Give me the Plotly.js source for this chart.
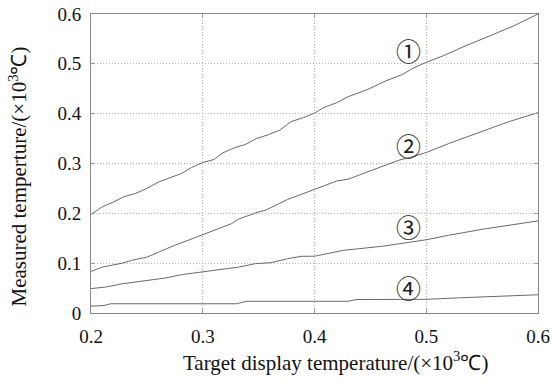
<!DOCTYPE html>
<html>
<head>
<meta charset="utf-8">
<script src="https://cdn.plot.ly/plotly-3.0.1.min.js"></script>
<style>html,body{margin:0;padding:0;background:#fff;}#chart{width:554px;height:382px;}</style>
</head>
<body>
<div id="chart"></div>
<script>
// Curve 1
const x1 = [0.2,0.21,0.2205,0.229,0.24,0.25,0.2605,0.271,0.281,0.29,0.3,0.31,0.318,0.329,0.338,0.348,0.359,0.369,0.379,0.39,0.4,0.408,0.42,0.43,0.448,0.464,0.479,0.488,0.5,0.515,0.535,0.559,0.58,0.6];
const y1 = [0.198,0.213,0.223,0.233,0.24,0.25,0.263,0.272,0.28,0.292,0.302,0.308,0.3215,0.332,0.338,0.35,0.358,0.367,0.384,0.392,0.401,0.412,0.422,0.434,0.449,0.466,0.479,0.491,0.503,0.516,0.536,0.558,0.578,0.6];
// Curve 2
const x2 = [0.2,0.21,0.228,0.237,0.25,0.26,0.275,0.287,0.3,0.311,0.326,0.331,0.341,0.35,0.356,0.376,0.4,0.42,0.43,0.449,0.476,0.485,0.5,0.52,0.55,0.574,0.6];
const y2 = [0.0835,0.092,0.1,0.106,0.112,0.122,0.136,0.146,0.157,0.166,0.1795,0.1875,0.196,0.203,0.206,0.228,0.248,0.265,0.2685,0.285,0.307,0.312,0.322,0.34,0.365,0.384,0.402];
// Curve 3
const x3 = [0.2,0.213,0.228,0.25,0.266,0.281,0.3,0.317,0.332,0.347,0.361,0.376,0.388,0.4,0.426,0.461,0.479,0.5,0.52,0.553,0.6];
const y3 = [0.049,0.052,0.0587,0.065,0.07,0.077,0.083,0.087,0.092,0.099,0.101,0.109,0.1137,0.114,0.1258,0.134,0.1405,0.147,0.156,0.169,0.1848];
// Curve 4
const x4 = [0.2,0.2116,0.2175,0.33,0.339,0.43,0.4375,0.5,0.53,0.562,0.6];
const y4 = [0.0137,0.015,0.0185,0.0185,0.0235,0.0235,0.027,0.0275,0.0305,0.033,0.0366];

const labels = ['①','②','③','④'];
const labelX = [0.484,0.484,0.484,0.484];
const labelY = [0.528,0.338,0.174,0.052];

const tickVals = [0.2,0.3,0.4,0.5,0.6];
const tickText = ['0.2','0.3','0.4','0.5','0.6'];
const yTickVals = [0,0.1,0.2,0.3,0.4,0.5,0.6];
const yTickText = ['0','0.1','0.2','0.3','0.4','0.5','0.6'];

const lineStyle = {color:'#6a6a6a', width:1};
const traces = [[x1,y1],[x2,y2],[x3,y3],[x4,y4]].map(([x,y]) => ({
  x:x, y:y, type:'scatter', mode:'lines', line:lineStyle, hoverinfo:'skip', showlegend:false
}));

const serif = 'Liberation Serif';
const annotations = labels.map((t,i) => ({
  x:labelX[i], y:labelY[i], xref:'x', yref:'y', text:t, showarrow:false,
  font:{family:'Noto Sans CJK SC', size:25, color:'#222'}
}));
annotations.push({
  xref:'paper', yref:'paper', x:0.547, y:-0.162, yanchor:'middle', xanchor:'center', showarrow:false,
  text:'Target display temperature/(×10<sup>3</sup>℃)', font:{family:serif, size:21, color:'#111'}
});
annotations.push({
  xref:'paper', yref:'paper', x:-0.162, y:0.455, xanchor:'center', yanchor:'middle', showarrow:false, textangle:-90,
  text:'Measured temperture/(×10<sup>3</sup>℃)', font:{family:serif, size:21, color:'#111'}
});

const axisCommon = {
  showline:true, linecolor:'#888', linewidth:1, mirror:'ticks',
  ticks:'inside', ticklen:4, tickcolor:'#999',
  showgrid:true, gridcolor:'#b8b8b8', griddash:'1px,2px', gridwidth:1,
  zeroline:false, tickfont:{family:serif, size:19, color:'#111'}
};

const layout = {
  width:554, height:382,
  margin:{l:91, r:16, t:14, b:69},
  font:{family:serif, color:'#111'},
  paper_bgcolor:'#fff', plot_bgcolor:'#fff',
  xaxis:Object.assign({}, axisCommon, {range:[0.2,0.6], tickvals:tickVals, ticktext:tickText, ticklabelstandoff:6}),
  yaxis:Object.assign({}, axisCommon, {range:[0,0.6], tickvals:yTickVals, ticktext:yTickText, ticklabelstandoff:5}),
  annotations:annotations,
  showlegend:false
};

Plotly.newPlot('chart', traces, layout, {staticPlot:true, displayModeBar:false});
</script>
</body>
</html>
